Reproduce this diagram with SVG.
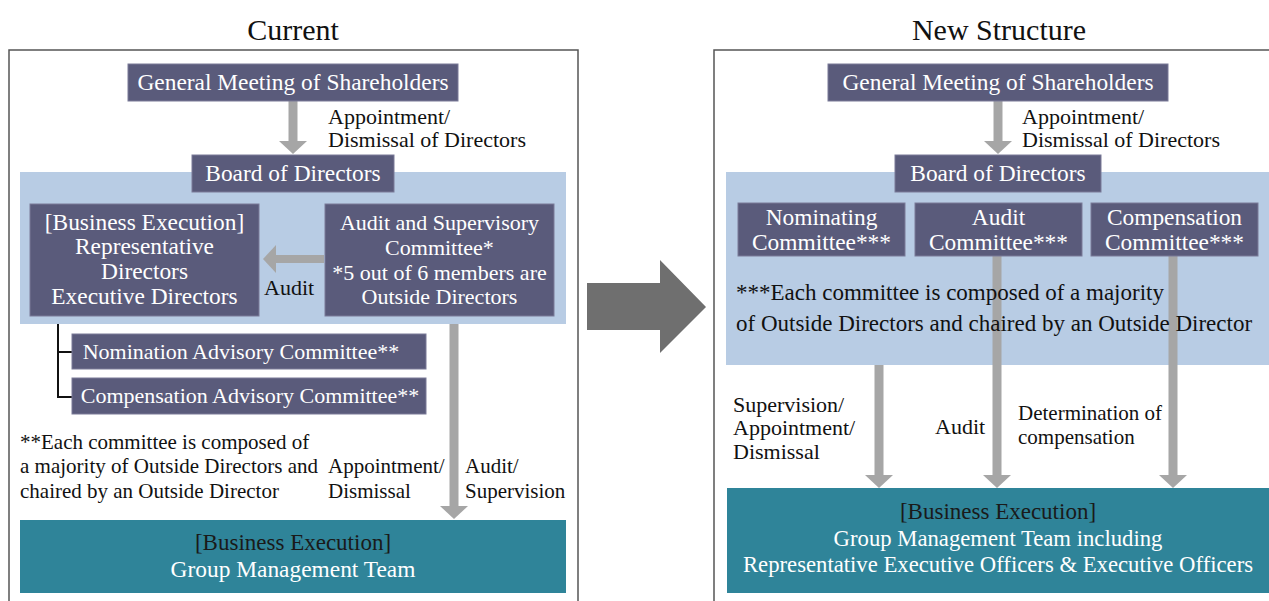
<svg xmlns="http://www.w3.org/2000/svg" width="1269" height="601" viewBox="0 0 1269 601">
<defs>
<style>
text{font-family:"Liberation Serif","Times New Roman",serif;}
.title{font-size:30px;fill:#111;text-anchor:middle;}
.box{fill:#5a5b7b;stroke:#7a7b98;stroke-width:1;}
.bt{font-size:23.4px;fill:#fff;text-anchor:middle;}
.sm{font-size:22px;}
.md{font-size:22.7px;}
.lbl{font-size:22px;fill:#111;}
.lbs{font-size:21px;fill:#111;}
.frame{fill:#fff;stroke:#555;stroke-width:1.5;}
.blue{fill:#b8cce4;}
.teal{fill:#2f8499;}
.dk{font-size:23px;fill:#1a1a1a;text-anchor:middle;}
.conn{stroke:#a6a6a6;stroke-width:9;fill:none;}
.connh{stroke:#a6a6a6;stroke-width:8;fill:none;}
.brk{stroke:#111;stroke-width:2;fill:none;}
</style>
<marker id="ah" markerUnits="userSpaceOnUse" markerWidth="13" markerHeight="28" refX="0" refY="14" orient="auto" viewBox="0 0 13 28">
<path d="M0,0 L13,14 L0,28 Z" fill="#a6a6a6"/>
</marker>
</defs>

<!-- Titles -->
<text class="title" x="293" y="40">Current</text>
<text class="title" x="999" y="40">New Structure</text>

<!-- Frames -->
<rect class="frame" x="9" y="50" width="569" height="570"/>
<rect class="frame" x="714" y="50" width="600" height="570"/>

<!-- Background regions -->
<rect class="blue" x="20" y="172" width="546" height="152"/>
<rect class="blue" x="726" y="172" width="560" height="193"/>
<rect class="teal" x="20" y="520" width="546" height="73"/>
<rect class="teal" x="727" y="488" width="560" height="105"/>

<!-- Big transition arrow -->
<polygon points="587,283 660,283 660,260 706,307 660,353 660,330 587,330" fill="#6f6f6f"/>

<!-- Connectors -->
<g id="connectors">
<line class="conn" x1="293" y1="101" x2="293" y2="141" marker-end="url(#ah)"/>
<line class="connh" x1="324" y1="259" x2="276" y2="259" marker-end="url(#ah)"/>
<line class="conn" x1="454" y1="324" x2="454" y2="506" marker-end="url(#ah)"/>
<path class="brk" d="M58,324 V397 H72 M58,352 H72"/>
<line class="conn" x1="998" y1="101" x2="998" y2="141" marker-end="url(#ah)"/>
<line class="conn" x1="879" y1="365" x2="879" y2="475" marker-end="url(#ah)"/>
<line class="conn" x1="997" y1="256" x2="997" y2="475" marker-end="url(#ah)"/>
<line class="conn" x1="1173" y1="256" x2="1173" y2="475" marker-end="url(#ah)"/>
</g>

<!-- Current structure nodes -->
<g id="cur-gms">
<rect class="box" x="128" y="64" width="330" height="37"/>
<text class="bt" x="293" y="90">General Meeting of Shareholders</text>
</g>
<g id="cur-label-appoint">
<text class="lbl" x="328" y="124">Appointment/</text>
<text class="lbl" x="328" y="147">Dismissal of Directors</text>
</g>
<g id="cur-board">
<rect class="box" x="192" y="155" width="202" height="37"/>
<text class="bt" x="293" y="181">Board of Directors</text>
</g>
<g id="cur-exec">
<rect class="box" x="30" y="204" width="229" height="112"/>
<text class="bt" x="144.5" y="230">[Business Execution]</text>
<text class="bt" x="144.5" y="254">Representative</text>
<text class="bt" x="144.5" y="279">Directors</text>
<text class="bt" x="144.5" y="304">Executive Directors</text>
</g>
<g id="cur-audit">
<rect class="box" x="325" y="204" width="229" height="112"/>
<text class="bt sm" x="439.5" y="230">Audit and Supervisory</text>
<text class="bt sm" x="439.5" y="255">Committee*</text>
<text class="bt sm" x="439.5" y="280">*5 out of 6 members are</text>
<text class="bt sm" x="439.5" y="304">Outside Directors</text>
</g>
<g id="cur-audit-label">
<text class="lbl" x="264" y="295">Audit</text>
</g>
<g id="cur-nom">
<rect class="box" x="72" y="334" width="354" height="35"/>
<text class="bt sm" x="241" y="359">Nomination Advisory Committee**</text>
</g>
<g id="cur-comp">
<rect class="box" x="72" y="378" width="354" height="36"/>
<text class="bt sm" x="250" y="403">Compensation Advisory Committee**</text>
</g>
<g id="cur-note">
<text class="lbs" x="20" y="449">**Each committee is composed of</text>
<text class="lbs" x="20" y="473">a majority of Outside Directors and</text>
<text class="lbs" x="20" y="498">chaired by an Outside Director</text>
</g>
<g id="cur-labels-bottom">
<text class="lbs" x="328" y="473">Appointment/</text>
<text class="lbs" x="328" y="498">Dismissal</text>
<text class="lbs" x="465" y="473">Audit/</text>
<text class="lbs" x="465" y="498">Supervision</text>
</g>
<g id="cur-exec-team">
<text class="dk" x="293" y="550">[Business Execution]</text>
<text class="bt" x="293" y="577">Group Management Team</text>
</g>

<!-- New structure nodes -->
<g id="new-gms">
<rect class="box" x="828" y="64" width="340" height="37"/>
<text class="bt" x="998" y="90">General Meeting of Shareholders</text>
</g>
<g id="new-label-appoint">
<text class="lbl" x="1022" y="124">Appointment/</text>
<text class="lbl" x="1022" y="147">Dismissal of Directors</text>
</g>
<g id="new-board">
<rect class="box" x="895" y="155" width="206" height="37"/>
<text class="bt" x="998" y="181">Board of Directors</text>
</g>
<g id="new-nom">
<rect class="box" x="738" y="203" width="167" height="53"/>
<text class="bt" x="821.5" y="225">Nominating</text>
<text class="bt" x="821.5" y="250">Committee***</text>
</g>
<g id="new-audit">
<rect class="box" x="915" y="203" width="167" height="53"/>
<text class="bt" x="998.5" y="225">Audit</text>
<text class="bt" x="998.5" y="250">Committee***</text>
</g>
<g id="new-comp">
<rect class="box" x="1091" y="203" width="167" height="53"/>
<text class="bt" x="1174.5" y="225">Compensation</text>
<text class="bt" x="1174.5" y="250">Committee***</text>
</g>
<g id="new-note">
<text class="lbl" x="736" y="300" style="font-size:23px">***Each committee is composed of a majority</text>
<text class="lbl" x="736" y="331" style="font-size:23px">of Outside Directors and chaired by an Outside Director</text>
</g>
<g id="new-labels">
<text class="lbl" x="733" y="412">Supervision/</text>
<text class="lbl" x="733" y="435">Appointment/</text>
<text class="lbl" x="733" y="459">Dismissal</text>
<text class="lbl" x="935" y="434">Audit</text>
<text class="lbs" x="1018" y="420">Determination of</text>
<text class="lbs" x="1018" y="444">compensation</text>
</g>
<g id="new-exec-team">
<text class="dk" x="998" y="519">[Business Execution]</text>
<text class="bt md" x="998" y="546">Group Management Team including</text>
<text class="bt md" x="998" y="572">Representative Executive Officers &amp; Executive Officers</text>
</g>
</svg>
